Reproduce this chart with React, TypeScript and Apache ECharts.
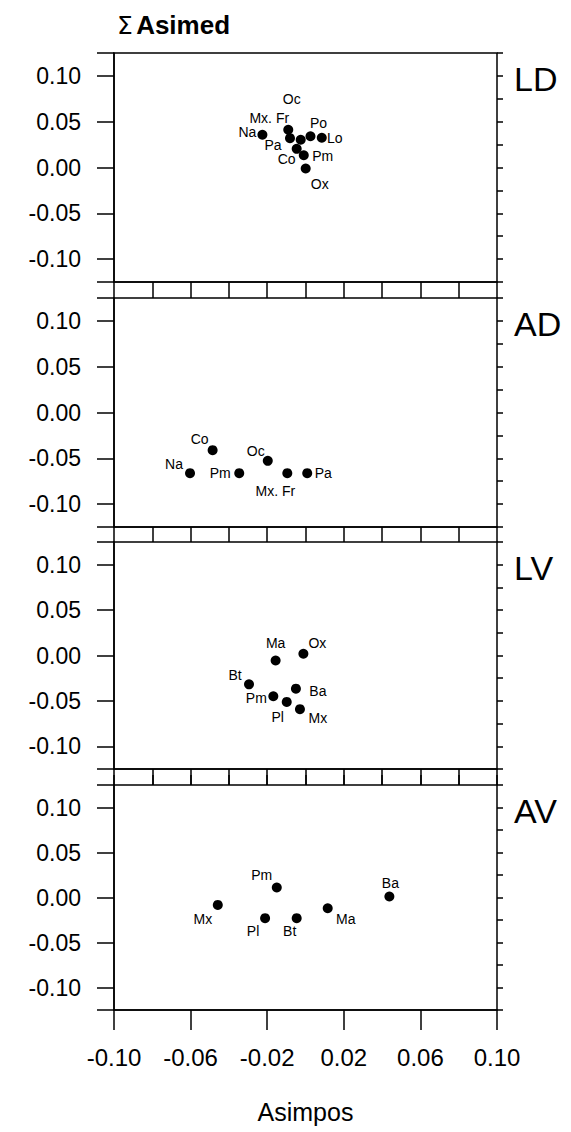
import React, { useEffect, useRef } from 'react';
import * as echarts from 'echarts';

// ---------- data ----------
const X_TICK_LABELS = ['-0.10', '-0.06', '-0.02', '0.02', '0.06', '0.10'];
const Y_TICK_LABELS = ['-0.10', '-0.05', '0.00', '0.05', '0.10'];
const PANEL_NAMES = ['LD', 'AD', 'LV', 'AV'];
const Y_TITLE = 'Asimed';
const X_TITLE = 'Asimpos';

const LD_NAMES = ['Na', 'Mx. Fr', 'Oc', 'Pa', 'Co', 'Po', 'Lo', 'Pm', 'Ox'];
const LD_X = [-0.0225, -0.009, -0.0025, -0.0081, -0.0046, 0.0026, 0.0085, -0.0009, 0.0001];
const LD_Y = [0.0358, 0.0412, 0.0303, 0.032, 0.0204, 0.0341, 0.0325, 0.0134, -0.0011];

const AD_NAMES = ['Co', 'Na', 'Pm', 'Oc', 'Mx. Fr', 'Pa'];
const AD_X = [-0.0485, -0.0603, -0.0346, -0.0197, -0.0095, 0.0009];
const AD_Y = [-0.0411, -0.0662, -0.0662, -0.0528, -0.0662, -0.0662];

const LV_NAMES = ['Ma', 'Ox', 'Bt', 'Ba', 'Pm', 'Pl', 'Mx'];
const LV_X = [-0.0156, -0.0011, -0.0295, -0.005, -0.0168, -0.0098, -0.0029];
const LV_Y = [-0.0055, 0.0019, -0.0318, -0.0365, -0.0449, -0.0511, -0.0591];

const AV_NAMES = ['Pm', 'Mx', 'Pl', 'Bt', 'Ma', 'Ba'];
const AV_X = [-0.015, -0.0458, -0.0211, -0.0046, 0.0116, 0.0438];
const AV_Y = [0.0111, -0.0082, -0.023, -0.023, -0.0119, 0.0011];

// ---------- label placement (style, px offset from the dot) ----------
const LD_LABEL_OFFSETS = [[-15, -3], [-19, -12], [-9, -41], [-17, 7], [-10, 10], [8, -13], [13, 0], [19, 1], [14, 15]];
const AD_LABEL_OFFSETS = [[-13, -11], [-16, -9], [-19, 0], [-12, -10], [-12, 18], [16, 0]];
const LV_LABEL_OFFSETS = [[0, -17], [14, -11], [-14, -9], [22, 2], [-17, 2], [-9, 15], [18, 9]];
const AV_LABEL_OFFSETS = [[-15, -13], [-15, 14], [-12, 13], [-7, 13], [18, 11], [1, -14]];

const PANEL_DATA = [
  { names: LD_NAMES, xs: LD_X, ys: LD_Y, offsets: LD_LABEL_OFFSETS },
  { names: AD_NAMES, xs: AD_X, ys: AD_Y, offsets: AD_LABEL_OFFSETS },
  { names: LV_NAMES, xs: LV_X, ys: LV_Y, offsets: LV_LABEL_OFFSETS },
  { names: AV_NAMES, xs: AV_X, ys: AV_Y, offsets: AV_LABEL_OFFSETS },
];

// ---------- layout ----------
const FONT = '"Liberation Sans", Arial, Helvetica, sans-serif';
const GRID_LEFT = 114;
const GRID_WIDTH = 383;
const GRID_BOXES = [
  { top: 53, height: 229 },
  { top: 298, height: 229 },
  { top: 542, height: 227 },
  { top: 785, height: 225 },
];
const LINE = { color: '#000', width: 1.5 };

function fmt(labels: string[]) {
  return (v: number) => {
    const hit = labels.find((l) => Math.abs(parseFloat(l) - v) < 1e-6);
    return hit === undefined ? '' : hit;
  };
}

function buildOption() {
  const grid = GRID_BOXES.map((b) => ({
    left: GRID_LEFT,
    width: GRID_WIDTH,
    top: b.top,
    height: b.height,
    show: true,
    borderColor: '#000',
    borderWidth: 1.5,
    backgroundColor: 'transparent',
  }));

  const xAxis: any[] = [];
  for (let i = 0; i < 3; i++) {
    const gap = GRID_BOXES[i + 1].top - (GRID_BOXES[i].top + GRID_BOXES[i].height);
    xAxis.push({
      gridIndex: i,
      type: 'value',
      min: -0.1,
      max: 0.1,
      interval: 0.02,
      axisLine: { show: true, onZero: false, lineStyle: LINE },
      axisTick: { show: true, length: gap, lineStyle: LINE },
      axisLabel: { show: false },
      splitLine: { show: false },
    });
  }
  // bottom panel: major ticks + labels
  xAxis.push({
    gridIndex: 3,
    type: 'value',
    min: -0.1,
    max: 0.1,
    interval: 0.04,
    axisLine: { show: true, onZero: false, lineStyle: LINE },
    axisTick: { show: true, length: 20, lineStyle: LINE },
    axisLabel: {
      show: true,
      margin: 35,
      color: '#000',
      fontSize: 24,
      fontFamily: FONT,
      formatter: fmt(X_TICK_LABELS),
    },
    splitLine: { show: false },
    name: X_TITLE,
    nameLocation: 'middle',
    nameGap: 89,
    nameTextStyle: { color: '#000', fontSize: 25, fontFamily: FONT },
  });
  // bottom panel: minor ticks
  xAxis.push({
    gridIndex: 3,
    type: 'value',
    min: -0.1,
    max: 0.1,
    interval: 0.02,
    axisLine: { show: false, onZero: false },
    axisTick: { show: true, length: 10, lineStyle: LINE },
    axisLabel: { show: false },
    splitLine: { show: false },
  });

  const yAxis: any[] = [];
  for (let i = 0; i < 4; i++) {
    yAxis.push({
      gridIndex: i,
      type: 'value',
      min: -0.125,
      max: 0.125,
      splitNumber: 5,
      axisLine: { show: true, onZero: false, lineStyle: LINE },
      axisTick: { show: true, length: 17, lineStyle: LINE },
      axisLabel: {
        show: true,
        margin: 33,
        color: '#000',
        fontSize: 23,
        fontFamily: FONT,
        formatter: fmt(Y_TICK_LABELS),
      },
      splitLine: { show: false },
    });
    yAxis.push({
      gridIndex: i,
      type: 'value',
      min: -0.125,
      max: 0.125,
      interval: 0.025,
      axisLine: { show: false, onZero: false },
      axisTick: { show: true, length: 6, lineStyle: LINE },
      axisLabel: { show: false },
      splitLine: { show: false },
    });
  }

  const series = PANEL_DATA.map((p, i) => ({
    type: 'scatter',
    xAxisIndex: i,
    yAxisIndex: i * 2,
    symbol: 'circle',
    symbolSize: 10,
    itemStyle: { color: '#000', opacity: 1 },
    label: {
      show: true,
      position: 'inside',
      color: '#000',
      opacity: 1,
      fontSize: 14,
      fontFamily: FONT,
      formatter: (d: any) => d.name,
    },
    emphasis: { disabled: true },
    data: p.names.map((n, k) => ({
      name: n,
      value: [p.xs[k], p.ys[k]],
      label: { offset: p.offsets[k] },
    })),
  }));

  const graphic: any[] = PANEL_NAMES.map((name, i) => ({
    type: 'text',
    x: 514,
    y: GRID_BOXES[i].top + 26,
    style: {
      text: name,
      fontSize: 34,
      fontFamily: FONT,
      fill: '#000',
      verticalAlign: 'middle',
      align: 'left',
    },
  }));
  graphic.push({
    type: 'text',
    x: 117,
    y: 25,
    style: {
      text: '{s|Σ} {b|' + Y_TITLE + '}',
      fill: '#000',
      verticalAlign: 'middle',
      align: 'left',
      fontFamily: FONT,
      rich: {
        s: { fontSize: 25, fontFamily: '"DejaVu Sans", sans-serif', fill: '#000' },
        b: { fontSize: 26, fontWeight: 'bold', fontFamily: FONT, fill: '#000' },
      },
    },
  });

  return {
    animation: false,
    backgroundColor: '#fff',
    grid,
    xAxis,
    yAxis,
    series,
    graphic,
  };
}

export default function App() {
  const ref = useRef<HTMLDivElement>(null);
  useEffect(() => {
    if (!ref.current) return;
    const chart = echarts.init(ref.current, undefined, { renderer: 'svg' });
    chart.setOption(buildOption() as any);
    return () => chart.dispose();
  }, []);
  return (
    <div
      ref={ref}
      style={{ position: 'absolute', left: 0, top: 0, width: 571, height: 1132 }}
    />
  );
}
